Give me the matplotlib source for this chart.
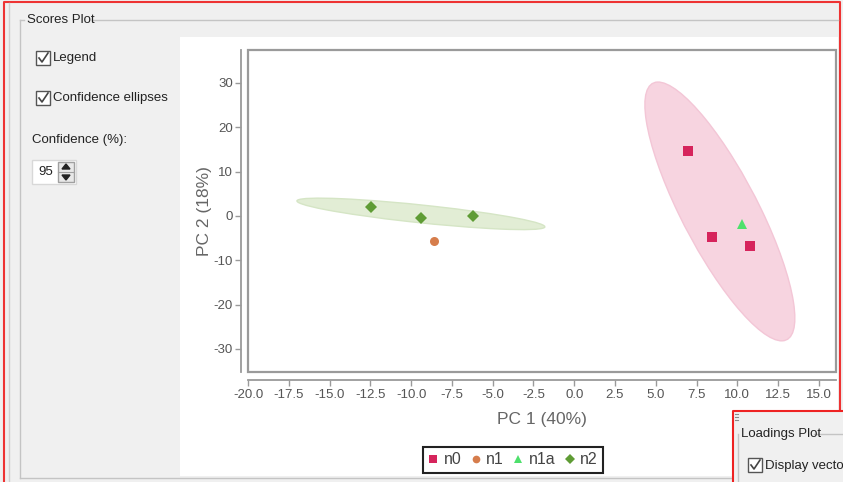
import numpy as np
import matplotlib
matplotlib.use("Agg")
import matplotlib.pyplot as plt
from matplotlib.patches import Rectangle, Ellipse, Polygon
from matplotlib.lines import Line2D

plt.rcParams["axes.unicode_minus"] = False

# ---------------- data ----------------
groups = ["n0", "n1", "n1a", "n2"]
n0_x = [7.0, 8.45, 10.75]
n0_y = [14.7, -4.7, -6.8]
n1_x = [-8.6]
n1_y = [-5.6]
n1a_x = [10.3]
n1a_y = [-1.8]
n2_x = [-12.45, -9.4, -6.2]
n2_y = [2.0, -0.45, 0.0]

# confidence ellipses: centre, major and minor semi-axis vectors (data units)
ell_n0_center = (8.93, 1.0)
ell_n0_major = (-4.11, 28.9)
ell_n0_minor = (2.06, 3.99)
ell_n2_center = (-9.40, 0.45)
ell_n2_major = (7.60, -2.93)
ell_n2_minor = (-0.06, -2.0)

x_ticks = [-20.0, -17.5, -15.0, -12.5, -10.0, -7.5, -5.0, -2.5, 0.0, 2.5, 5.0, 7.5, 10.0, 12.5, 15.0]
y_ticks = [-30, -20, -10, 0, 10, 20, 30]
x_label = "PC 1 (40%)"
y_label = "PC 2 (18%)"

colors = {"n0": "#d6245c", "n1": "#d67d4c", "n1a": "#4ee06c", "n2": "#5f9c35"}
markers = {"n0": "s", "n1": "o", "n1a": "^", "n2": "D"}

GUI_FONT = ["Liberation Sans Narrow", "Liberation Sans", "DejaVu Sans"]
PLOT_FONT = ["Liberation Sans Narrow", "Liberation Sans", "DejaVu Sans"]

W, H = 843, 482
fig = plt.figure(figsize=(W / 100, H / 100), dpi=100, facecolor="#f0f0f0")


def fx(x):
    return x / W


def fy(y):
    return 1 - y / H


def frect(x0, y0, x1, y1, zorder=-5, **kw):
    r = Rectangle((fx(x0), fy(y1)), fx(x1) - fx(x0), fy(y0) - fy(y1),
                  transform=fig.transFigure, zorder=zorder, **kw)
    fig.add_artist(r)


def fline(xs, ys, zorder=-4, **kw):
    fig.add_artist(Line2D([fx(v) for v in xs], [fy(v) for v in ys],
                          transform=fig.transFigure, zorder=zorder, **kw))


def ftext(x, y, s, **kw):
    fig.text(fx(x), fy(y), s, family=GUI_FONT, **kw)


def checkbox(x, y, size=14, z=-4):
    frect(x, y, x + size, y + size, zorder=z, facecolor="white", edgecolor="#555555", lw=1.0)
    fline([x + 3, x + 6, x + 12], [y + 7, y + 11, y + 2], zorder=z + 0.5, color="#444444", lw=1.2)


# ---------------- GUI chrome ----------------
fline([4, 4, 840, 840], [482, 2, 2, 482], color="#ee3333", lw=1.5)
fline([9, 9], [3, 482], color="#d0d0d0", lw=1)
fline([20, 20, 20], [20, 478, 478], color="#c4c4c4", lw=1)
fline([20, 24], [20, 20], color="#c4c4c4", lw=1)
fline([92, 838], [20, 20], color="#c4c4c4", lw=1)
fline([20, 838], [478, 478], color="#c4c4c4", lw=1)
ftext(27, 20, "Scores Plot", fontsize=9.5, va="center", ha="left", color="#222222")

checkbox(36, 51)
ftext(53, 58, "Legend", fontsize=9.5, va="center", ha="left", color="#222222")
checkbox(36, 91)
ftext(53, 98, "Confidence ellipses", fontsize=9.5, va="center", ha="left", color="#222222")
ftext(32, 140, "Confidence (%):", fontsize=9.5, va="center", ha="left", color="#222222")
frect(32, 160, 76, 184, facecolor="white", edgecolor="#d8d8d8", lw=1)
ftext(38, 172, "95", fontsize=9.5, va="center", ha="left", color="#222222")
frect(58, 162, 74, 182, zorder=-4, facecolor="#e8e8e8", edgecolor="#a0a0a0", lw=1)
fline([58, 74], [172, 172], zorder=-3, color="#a0a0a0", lw=0.8)
fig.add_artist(Polygon([[fx(62), fy(169)], [fx(70), fy(169)], [fx(66), fy(164)]],
                       closed=True, transform=fig.transFigure, color="#222222", zorder=-3))
fig.add_artist(Polygon([[fx(62), fy(175)], [fx(70), fy(175)], [fx(66), fy(180)]],
                       closed=True, transform=fig.transFigure, color="#222222", zorder=-3))

# white plot panel
frect(180, 37, 838, 476, zorder=-6, facecolor="white", edgecolor="none")

# ---------------- plot axes ----------------
ax_l, ax_r, ax_t, ax_b = 248, 836, 50, 372
ax = fig.add_axes([fx(ax_l), fy(ax_b), fx(ax_r) - fx(ax_l), fy(ax_t) - fy(ax_b)])
ax.set_zorder(1)
ax.set_facecolor("white")
ax.set_xlim(-20.0, 16.05)
ax.set_ylim(-35.2, 37.4)

for name, c, mj, mn in [("n0", ell_n0_center, ell_n0_major, ell_n0_minor),
                        ("n2", ell_n2_center, ell_n2_major, ell_n2_minor)]:
    M = np.column_stack([mj, mn])
    U, S, Vt = np.linalg.svd(M)
    ang = np.degrees(np.arctan2(U[1, 0], U[0, 0]))
    if name == "n0":
        fc, ec = "#f7d4e0", "#f3c6d6"
    else:
        fc, ec = "#e2edd5", "#d5e5c5"
    ax.add_patch(Ellipse(c, 2 * S[0], 2 * S[1], angle=ang, facecolor=fc,
                         edgecolor=ec, lw=1.0, zorder=1))

series = {"n0": (n0_x, n0_y), "n1": (n1_x, n1_y), "n1a": (n1a_x, n1a_y), "n2": (n2_x, n2_y)}
msize = {"n0": 6.5, "n1": 6.5, "n1a": 7, "n2": 6}
for g in groups:
    xs, ys = series[g]
    ax.plot(xs, ys, linestyle="none", marker=markers[g], color=colors[g],
            markersize=msize[g], markeredgewidth=0, zorder=3, label=g)

for s in ["top", "right"]:
    ax.spines[s].set_visible(False)
ax.spines["left"].set_position(("outward", 5))
ax.spines["bottom"].set_position(("outward", 6))
for s in ["left", "bottom"]:
    ax.spines[s].set_color("#9a9a9a")
    ax.spines[s].set_linewidth(1.3)
ax.add_patch(Rectangle((0, 0), 1, 1, transform=ax.transAxes, fill=False,
                       edgecolor="#9a9a9a", lw=1.6, clip_on=False, zorder=5))

ax.set_xticks(x_ticks)
ax.set_xticklabels([f"{v:.1f}" for v in x_ticks])
ax.set_yticks(y_ticks)
ax.set_yticklabels([str(v) for v in y_ticks])
ax.tick_params(axis="both", direction="out", length=4, width=1, color="#9a9a9a",
               labelcolor="#555555", labelsize=9.5)
ax.tick_params(axis="x", pad=2)
ax.tick_params(axis="y", pad=2)
for lab in ax.get_xticklabels() + ax.get_yticklabels():
    lab.set_family(PLOT_FONT)

ax.set_xlabel(x_label, fontsize=12.5, color="#666666", family=PLOT_FONT, labelpad=8)
ax.set_ylabel(y_label, fontsize=12.5, color="#666666", family=PLOT_FONT, labelpad=1)

leg = fig.legend(*ax.get_legend_handles_labels(), loc="center",
                 bbox_to_anchor=(fx(513), fy(460)), ncol=4, frameon=True,
                 fancybox=False, edgecolor="#222222", framealpha=1,
                 prop={"family": PLOT_FONT, "size": 11.5}, handlelength=0.6,
                 handletextpad=0.35, columnspacing=0.6, borderpad=0.35,
                 markerscale=0.85)
leg.get_frame().set_linewidth(1.5)
for t in leg.get_texts():
    t.set_color("#444444")

# ---------------- Loadings panel ----------------
frect(733, 411, 845, 484, zorder=5, facecolor="#f0f0f0", edgecolor="none")
fline([733, 733, 845], [484, 411, 411], zorder=6, color="#ee2222", lw=1.5)
fline([738, 738], [434, 484], zorder=6, color="#c4c4c4", lw=1)
fline([814, 845], [434, 434], zorder=6, color="#c4c4c4", lw=1)
fig.text(fx(741), fy(434), "Loadings Plot", family=GUI_FONT, fontsize=9.5,
         va="center", ha="left", color="#222222", zorder=7)
checkbox(748, 458, z=6)
fig.text(fx(765), fy(466), "Display vectors", family=GUI_FONT, fontsize=9.5,
         va="center", ha="left", color="#222222", zorder=7, clip_on=False)
for yy in [414, 417, 420]:
    fline([735, 738], [yy, yy], zorder=6, color="#888888", lw=0.8)

fig.savefig("out.png", dpi=100, facecolor=fig.get_facecolor())
